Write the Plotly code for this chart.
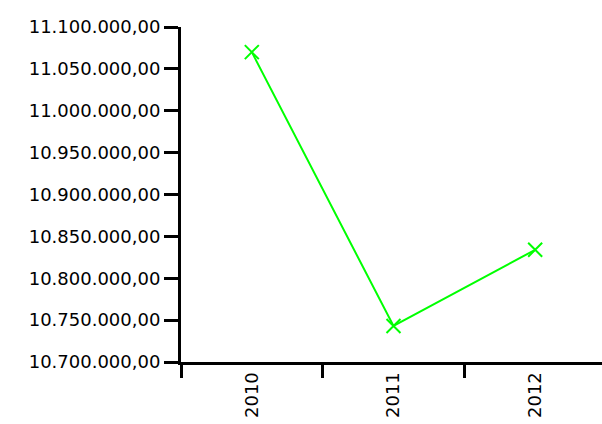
import plotly.graph_objects as go

years = ["2010", "2011", "2012"]
values = [11070000, 10743000, 10834000]
y_ticks = [10700000, 10750000, 10800000, 10850000, 10900000, 10950000, 11000000, 11050000, 11100000]

fig = go.Figure()
fig.add_trace(go.Scatter(
    x=years, y=values, mode="lines+markers",
    line=dict(color="#00ff00", width=2),
    marker=dict(symbol="x-thin", size=14, line=dict(color="#00ff00", width=2)),
    showlegend=False,
))
fig.update_layout(
    width=606, height=424,
    margin=dict(l=181, r=0, t=27, b=62, autoexpand=False),
    paper_bgcolor="white", plot_bgcolor="white",
    separators=",.",
    font=dict(family="DejaVu Sans", size=18, color="black"),
)
fig.update_xaxes(
    type="category", range=[-0.5, 2.5],
    showline=True, linecolor="black", linewidth=3,
    ticks="outside", ticklen=13, tickwidth=3, tickcolor="black",
    tickson="boundaries", tickangle=-90, showgrid=False, zeroline=False,
)
fig.update_yaxes(
    range=[10700000, 11100000], tickvals=y_ticks, tickformat=",.2f",
    showline=True, linecolor="black", linewidth=3,
    ticks="outside", ticklen=14, tickwidth=3, tickcolor="black",
    showgrid=False, zeroline=False,
)
fig.write_html(
    "out.html",
    config={"displayModeBar": False},
    post_script="document.body.style.margin='0';document.body.style.overflow='hidden';",
)
